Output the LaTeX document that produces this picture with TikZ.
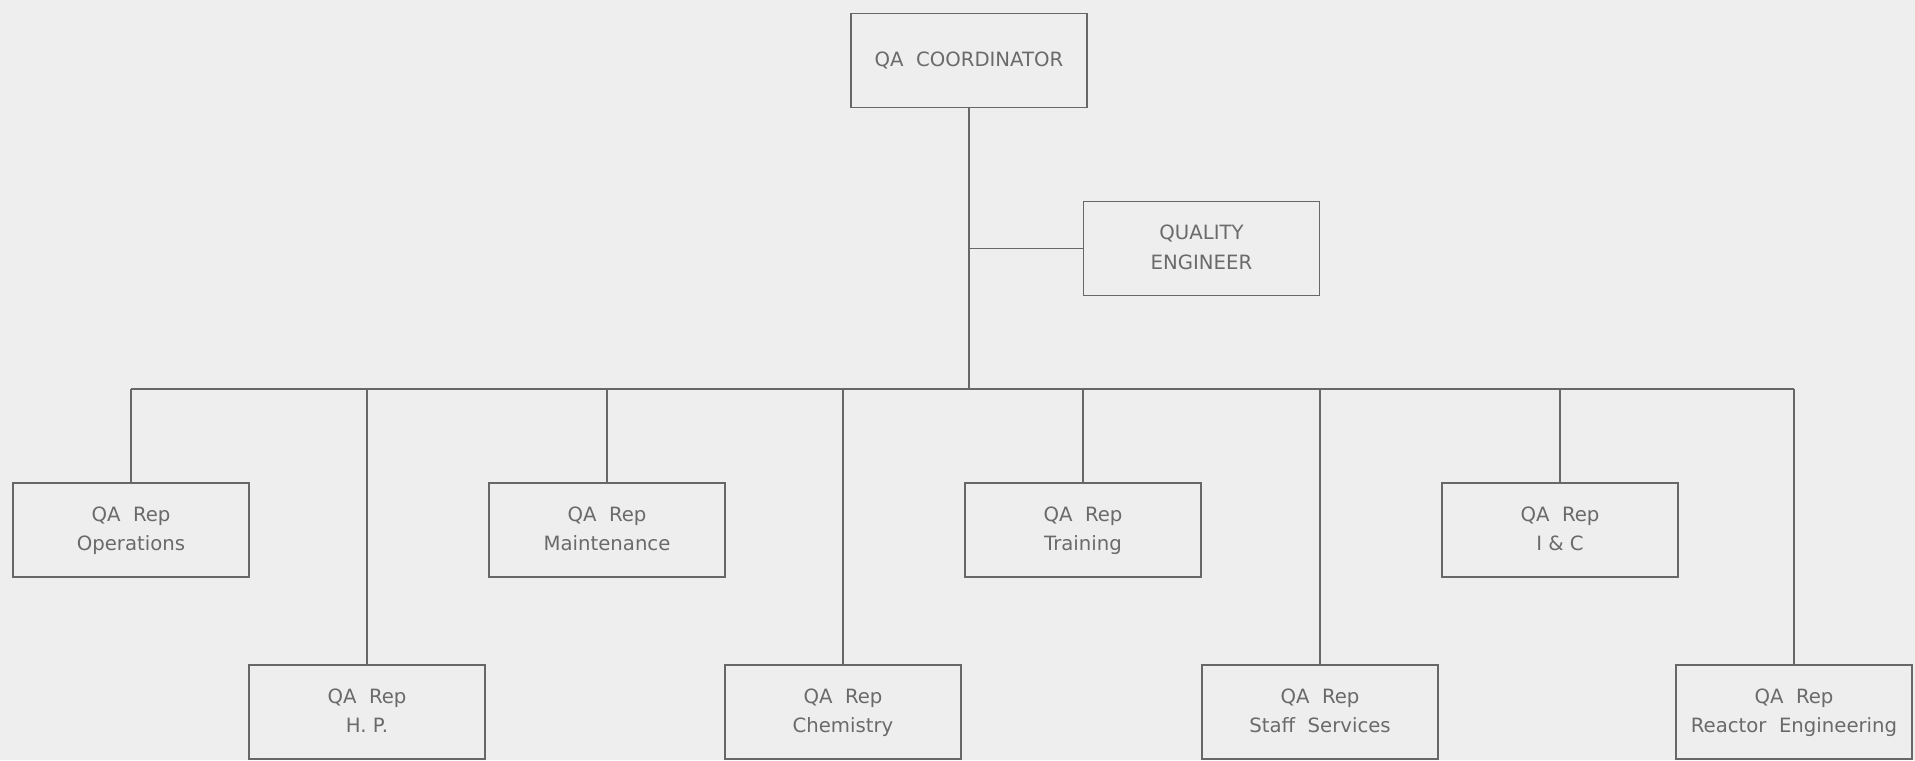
\documentclass[tikz,border=0pt]{standalone}
\usepackage{fontspec}
\newfontfamily\plotfont{DejaVu Sans}
\definecolor{bg}{HTML}{EEEEEE}
\definecolor{ink}{HTML}{676767}
\definecolor{txt}{HTML}{6A6A6A}
\newcommand{\twoln}[2]{\strut #1\\\strut #2}
\begin{document}
\begin{tikzpicture}[x=0.01cm,y=-0.01cm,
  box/.style={draw=ink, line width=0.42pt, minimum width=2.36cm, minimum height=0.94cm,
    inner sep=0pt, align=center, text=txt, font=\plotfont\fontsize{5.6}{8.5}\selectfont},
  conn/.style={draw=ink, line width=0.42pt}]
\fill[bg] (0,0) rectangle (1915,760);
\useasboundingbox (0,0) rectangle (1915,760);

\node[box] (coord) at (969,60.5) {\strut QA\ \ COORDINATOR};
\node[box] (qe) at (1201.5,248.5) {\twoln{QUALITY}{ENGINEER}};

\node[box] (op) at (131,530) {\twoln{QA\ \ Rep}{Operations}};
\node[box] (mt) at (607,530) {\twoln{QA\ \ Rep}{Maintenance}};
\node[box] (tr) at (1083,530) {\twoln{QA\ \ Rep}{Training}};
\node[box] (ic) at (1560,530) {\twoln{QA\ \ Rep}{I \& C}};

\node[box] (hp) at (367,712) {\twoln{QA\ \ Rep}{H.\ P.}};
\node[box] (ch) at (843,712) {\twoln{QA\ \ Rep}{Chemistry}};
\node[box] (ss) at (1320,712) {\twoln{QA\ \ Rep}{Staff\ \ Services}};
\node[box] (re) at (1794,712) {\twoln{QA\ \ Rep}{Reactor\ \ Engineering}};

\coordinate (bus) at (969,389);
\coordinate (qej) at (969,248.5);

\draw[conn] (coord.south) -- (bus);
\draw[conn] (qej) -- (qe.west);
\draw[conn] (op.north |- bus) -- (re.north |- bus);
\foreach \n in {op,mt,tr,ic,hp,ch,ss,re}
  \draw[conn] (\n.north) -- (\n.north |- bus);
\end{tikzpicture}
\end{document}
